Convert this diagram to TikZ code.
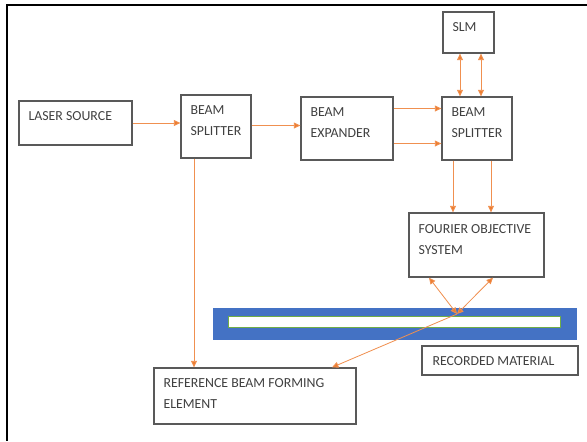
\documentclass[tikz,border=0pt]{standalone}
\usepackage{fontspec}
\setmainfont{Carlito}
\usepackage{xcolor}
\usetikzlibrary{arrows.meta,positioning,fit,calc}

\definecolor{beamorange}{HTML}{ED7D31}
\definecolor{plateblue}{HTML}{4472C4}
\definecolor{layergreen}{HTML}{70AD47}
\definecolor{boxgray}{HTML}{595959}
\definecolor{txtgray}{HTML}{404040}

\begin{document}
\begin{tikzpicture}[x=0.03cm, y=-0.03cm,
  box/.style={draw=boxgray, line width=1.1pt, inner sep=0pt},
  txt/.style={anchor=north west, inner sep=0pt, align=left, text=txtgray, font=\fontsize{11.8}{18}\selectfont},
  beam/.style={draw=beamorange!85, line width=0.7pt, -{Triangle[length=5.5pt,width=5pt,fill=beamorange]}},
  dbeam/.style={beam, {Triangle[length=5.5pt,width=5pt,fill=beamorange]}-{Triangle[length=5.5pt,width=5pt,fill=beamorange]}}]
\useasboundingbox (0,0) rectangle (587,441);
% frame
\draw[line width=1.7pt] (587,5) -- (7,5) -- (7,441);
% boxes
\node[box, fit={(19,101) (132,145)}] (ls) {};
\node[box, fit={(181,95) (251,158)}] (bs1) {};
\node[box, fit={(301,97) (393,160)}] (be) {};
\node[box, fit={(443,12) (494,53)}] (slm) {};
\node[box, fit={(442,97) (512,160)}] (bs2) {};
\node[box, fit={(409,213) (544,277)}] (fo) {};
\node[box, fit={(154,368) (356,424)}] (rb) {};
\node[box, fit={(422,346) (578,375)}] (rm) {};
% recording plate
\fill[plateblue] (213,308) rectangle (577,340);
\draw[layergreen, fill=white, line width=0.6pt] (228,316) rectangle (560,327);
% labels
\node[txt] at ([shift={(10,11)}]ls.north west) {LASER SOURCE};
\node[txt] at ([shift={(10,11)}]bs1.north west) {BEAM\\SPLITTER};
\node[txt] at ([shift={(10,11)}]be.north west) {BEAM\\EXPANDER};
\node[txt] at ([shift={(10,11)}]slm.north west) {SLM};
\node[txt] at ([shift={(10,11)}]bs2.north west) {BEAM\\SPLITTER};
\node[txt] at ([shift={(10,12)}]fo.north west) {FOURIER OBJECTIVE\\SYSTEM};
\node[txt] at ([shift={(10,11)}]rb.north west) {REFERENCE BEAM FORMING\\ELEMENT};
\node[txt] at ([shift={(11,11)}]rm.north west) {RECORDED MATERIAL};
% beams
\coordinate (hit) at (457,314);
\draw[beam] (ls.east) -- (ls.east -| bs1.west);
\draw[beam] ($(bs1.east)+(0,-1)$) -- ($(bs1.east -| be.west)+(0,-1)$);
\draw[beam] ($(be.east)+(0,-20)$) -- ($(be.east -| bs2.west)+(0,-20)$);
\draw[beam] ($(be.east)+(0,15)$) -- ($(be.east -| bs2.west)+(0,15)$);
\draw[dbeam] (slm.south -| 460,0) -- (bs2.north -| 460,0);
\draw[dbeam] (slm.south -| 481,0) -- (bs2.north -| 481,0);
\draw[beam] (bs2.south -| 453,0) -- (fo.north -| 453,0);
\draw[beam] (bs2.south -| 491,0) -- (fo.north -| 491,0);
\draw[beam] (bs1.south -| 194,0) -- (rb.north -| 194,0);
\draw[dbeam] (hit) -- (fo.south -| 429,0);
\draw[dbeam] (hit) -- (fo.south -| 493,0);
\draw[beam] (hit) -- (rb.north -| 332,0);
\end{tikzpicture}
\end{document}
